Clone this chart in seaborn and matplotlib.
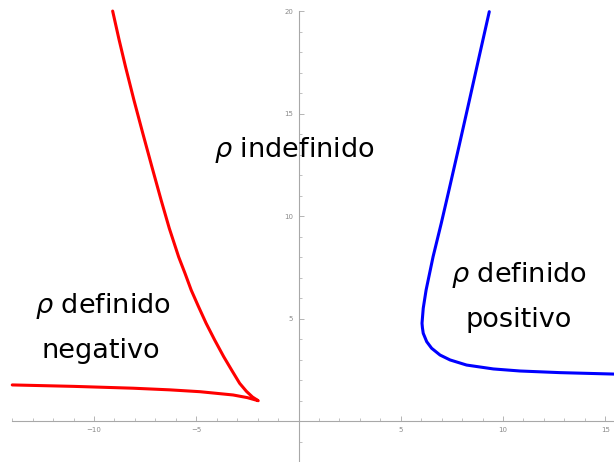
import numpy as np
import pandas as pd
import seaborn as sns
import matplotlib
matplotlib.use("Agg")
import matplotlib.pyplot as plt
from matplotlib.ticker import MultipleLocator

# Boundary of the negative-definite region (upper branch down to the cusp, then the lower branch)
red_x = [-9.09, -8.78, -8.46, -8.05, -7.62, -7.17, -6.72, -6.32, -5.86, -5.55, -5.25,
         -4.90, -4.52, -4.10, -3.66, -3.25, -2.88, -2.55, -2.25, -1.97,
         -2.50, -3.20, -4.82, -6.30, -8.09, -11.00, -14.00]
red_y = [20.00, 18.62, 17.28, 15.66, 14.05, 12.40, 10.78, 9.40, 8.00, 7.20, 6.39,
         5.60, 4.77, 3.95, 3.14, 2.45, 1.84, 1.45, 1.17, 0.99,
         1.14, 1.27, 1.43, 1.52, 1.60, 1.69, 1.76]

# Boundary of the positive-definite region
blue_x = [9.33, 8.84, 8.36, 7.86, 7.36, 6.98, 6.58, 6.24, 6.10, 6.04, 6.06, 6.10, 6.27,
          6.51, 6.92, 7.41, 8.22, 9.53, 10.83, 12.79, 15.43]
blue_y = [19.97, 17.80, 15.66, 13.45, 11.27, 9.64, 8.01, 6.39, 5.50, 4.77, 4.55, 4.28,
          3.87, 3.55, 3.22, 2.98, 2.73, 2.54, 2.44, 2.36, 2.29]

# Axis ticks
x_major = [-10, -5, 5, 10, 15]
y_major = [5, 10, 15, 20]

# Region labels, one entry per text line (anchored at the baseline)
label_text = ["$\\rho$ indefinido", "$\\rho$ definido", "negativo",
              "$\\rho$ definido", "positivo"]
label_x = [-0.22, -9.58, -9.67, 10.78, 10.78]
label_y = [12.88, 5.25, 3.06, 6.80, 4.60]

sns.set_style("white")
plt.rcParams["font.family"] = ["DejaVu Sans"]

fig = plt.figure(figsize=(6.14, 4.62), dpi=100)
ax = fig.add_axes([0, 0, 1, 1])

red = pd.DataFrame({"x": red_x, "y": red_y})
blue = pd.DataFrame({"x": blue_x, "y": blue_y})
sns.lineplot(data=red, x="x", y="y", sort=False, estimator=None, color="#ff0000",
             linewidth=2.2, ax=ax)
sns.lineplot(data=blue, x="x", y="y", sort=False, estimator=None, color="#0000ff",
             linewidth=2.2, ax=ax)
for line in ax.get_lines():
    line.set_solid_joinstyle("round")

ax.set_xlim(-14.6, 15.43)
ax.set_ylim(-2.0, 20.54)
ax.set_xlabel("")
ax.set_ylabel("")

# Axes crossing at the origin
axis_col = "#a8a8a8"
for side in ["top", "right"]:
    ax.spines[side].set_visible(False)
ax.spines["left"].set_position(("data", 0))
ax.spines["bottom"].set_position(("data", 0))
ax.spines["left"].set_bounds(-2.0, 20.0)
ax.spines["bottom"].set_bounds(-14.0, 15.43)
for side in ["left", "bottom"]:
    ax.spines[side].set_color(axis_col)
    ax.spines[side].set_linewidth(0.8)
    ax.spines[side].set_visible(True)

ax.set_xticks(x_major)
ax.set_yticks(y_major)
ax.xaxis.set_minor_locator(MultipleLocator(1))
ax.yaxis.set_minor_locator(MultipleLocator(1))
ax.tick_params(axis="both", which="major", direction="in", length=3.5, width=0.6,
               color=axis_col, labelsize=5, labelcolor="#8a8a8a", pad=4)
ax.tick_params(axis="both", which="minor", direction="in", length=2, width=0.5,
               color=axis_col)
ax.tick_params(axis="x", which="both", bottom=True)
ax.tick_params(axis="y", which="both", left=True)
for lbl in ax.get_yticklabels():
    lbl.set_horizontalalignment("right")

for text, tx, ty in zip(label_text, label_x, label_y):
    ax.text(tx, ty, text, ha="center", va="baseline", fontsize=19.5, color="black")

fig.savefig("out.png", dpi=100)
